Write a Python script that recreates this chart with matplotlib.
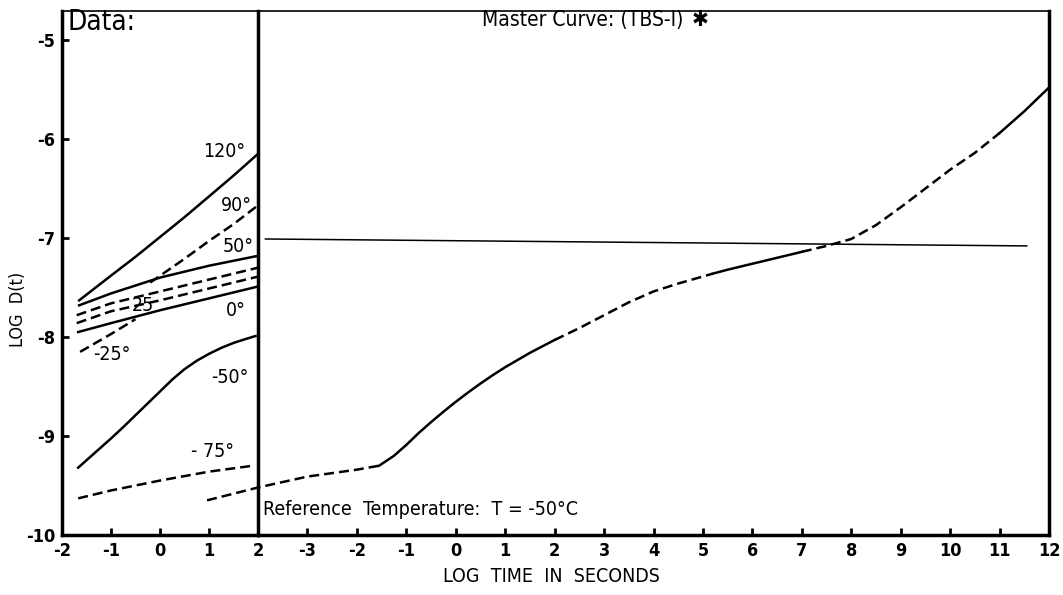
import numpy as np
import matplotlib.pyplot as plt

# measured curves, left panel (log t from -2 to 2)
t120_x = [-1.65, -1.0, -0.5, 0.0, 0.5, 1.0, 1.5, 2.0]
t120_y = [-7.63, -7.38, -7.19, -6.99, -6.79, -6.58, -6.37, -6.15]
t90_x = [-0.2, 0.5, 1.0, 1.5, 2.0]
t90_y = [-7.45, -7.21, -7.03, -6.86, -6.67]
t50_x = [-1.65, -1.0, 0.0, 1.0, 2.0]
t50_y = [-7.68, -7.56, -7.40, -7.28, -7.18]
t25a_x = [-1.7, -1.0, 0.0, 1.0, 2.0]
t25a_y = [-7.78, -7.66, -7.54, -7.42, -7.30]
t25b_x = [-1.7, -1.0, 0.0, 1.0, 2.0]
t25b_y = [-7.86, -7.74, -7.63, -7.51, -7.39]
t0_x = [-1.67, -1.0, 0.0, 1.0, 2.0]
t0_y = [-7.95, -7.86, -7.73, -7.61, -7.49]
tm25_x = [-1.63, -1.0, -0.5]
tm25_y = [-8.15, -7.97, -7.82]
tm50_x = [-1.67, -1.5, -1.25, -1.0, -0.75, -0.5, -0.25, 0.0, 0.25, 0.5,
          0.75, 1.0, 1.25, 1.5, 1.75, 1.95]
tm50_y = [-9.32, -9.245, -9.135, -9.025, -8.91, -8.79, -8.67, -8.55, -8.43,
          -8.325, -8.24, -8.17, -8.11, -8.06, -8.02, -7.99]
tm75_x = [-1.67, -1.0, 0.0, 1.0, 1.9]
tm75_y = [-9.63, -9.55, -9.45, -9.36, -9.30]

# master curve, reference temperature -50 C (log t from -4 to 12)
master_x = [-5.03, -4, -3, -2, -1.55, -1.25, -1, -0.75, -0.5, -0.25, 0, 0.25,
            0.5, 0.75, 1, 1.5, 2, 2.5, 3, 3.5, 4, 4.5, 5.2, 5.5, 6, 6.5, 7,
            7.5, 8, 8.5, 9, 9.5, 10, 10.5, 11, 11.5, 12]
master_y = [-9.65, -9.52, -9.41, -9.34, -9.30, -9.20, -9.09, -8.97, -8.86,
            -8.755, -8.655, -8.56, -8.47, -8.385, -8.305, -8.16, -8.03, -7.91,
            -7.78, -7.65, -7.54, -7.46, -7.36, -7.32, -7.26, -7.20, -7.14,
            -7.08, -7.01, -6.87, -6.69, -6.50, -6.31, -6.14, -5.94, -5.72,
            -5.48]
master_style = [(-5.03, -1.55, '--'), (-1.55, 2, '-'), (2, 5.2, '--'),
                (5.2, 7, '-'), (7, 11, '--'), (11, 12, '-')]
ref_x = [-3.85, 11.55]
ref_y = [-7.01, -7.08]

left_ticks = [-2, -1, 0, 1, 2]
right_ticks = list(range(-3, 13))
y_ticks = [-10, -9, -8, -7, -6, -5]

plt.rcParams['font.family'] = ['DejaVu Sans']
plt.rcParams['font.stretch'] = 'condensed'
plt.rcParams['axes.unicode_minus'] = False
LW = 1.8
DASH = (4, 2)

fig = plt.figure(figsize=(10.63, 5.95), dpi=100)
ax1 = fig.add_axes([62/1063, 60/595, 196/1063, 524/595])
ax2 = fig.add_axes([258/1063, 60/595, 791/1063, 524/595], sharey=ax1)
ax2.patch.set_visible(False)

ax1.set_xlim(-2, 2)
ax2.set_xlim(-4, 12)
ax1.set_ylim(-10, -10 + 524/99)


def curve(ax, x, y, ls, **kw):
    if ls == '--':
        ax.plot(x, y, color='black', lw=LW, dashes=DASH, **kw)
    else:
        ax.plot(x, y, color='black', lw=LW, **kw)


curve(ax1, t120_x, t120_y, '-')
curve(ax1, t90_x, t90_y, '--')
curve(ax1, t50_x, t50_y, '-')
curve(ax1, t25a_x, t25a_y, '--')
curve(ax1, t25b_x, t25b_y, '--')
curve(ax1, t0_x, t0_y, '-')
curve(ax1, tm25_x, tm25_y, '--')
curve(ax1, tm50_x, tm50_y, '-')
curve(ax1, tm75_x, tm75_y, '--')

mx = np.array(master_x)
my = np.array(master_y)
for a, b, ls in master_style:
    m = (mx >= a) & (mx <= b)
    curve(ax2, mx[m], my[m], ls, clip_on=False, zorder=5)

ax2.plot(ref_x, ref_y, color='black', lw=1.1)

lab = dict(fontsize=14, ha='center', va='center')
ax1.text(1.31, -6.13, '120°', **lab)
ax1.text(1.55, -6.67, '90°', **lab)
ax1.text(1.60, -7.09, '50°', **lab)
ax1.text(-0.35, -7.68, '25', **lab)
ax1.text(1.55, -7.73, '0°', **lab)
ax1.text(-0.98, -8.18, '-25°', **lab)
ax1.text(1.43, -8.41, '-50°', **lab)
ax1.text(1.08, -9.16, '- 75°', **lab)

ax1.text(-1.88, -4.82, 'Data:', fontsize=20, ha='left', va='center')
ax2.text(2.57, -4.80, 'Master Curve: (TBS-I)',
         fontsize=15, ha='center', va='center')
ax2.text(4.95, -4.80, '✱', fontsize=16, ha='center', va='center')
ax2.text(-3.9, -9.74, 'Reference  Temperature:  T = -50°C',
         fontsize=14, ha='left', va='center')

ax1.set_xticks(left_ticks)
ax2.set_xticks(right_ticks)
ax1.set_yticks(y_ticks)
for ax in (ax1, ax2):
    ax.tick_params(direction='in', length=5, width=2, labelsize=13, pad=5)
    for lbl in ax.get_xticklabels() + ax.get_yticklabels():
        lbl.set_fontweight('bold')
    for s in ax.spines.values():
        s.set_linewidth(2.5)
    ax.spines['top'].set_linewidth(1.2)
ax2.tick_params(axis='y', left=False, labelleft=False)
ax2.spines['left'].set_visible(False)

fig.text(551/1063, 1 - 577/595, 'LOG  TIME  IN  SECONDS', fontsize=14,
         ha='center', va='center')
fig.text(18/1063, 1 - 309/595, 'LOG  D(t)', fontsize=13, rotation=90,
         ha='center', va='center')

fig.savefig('out.png', dpi=100)
